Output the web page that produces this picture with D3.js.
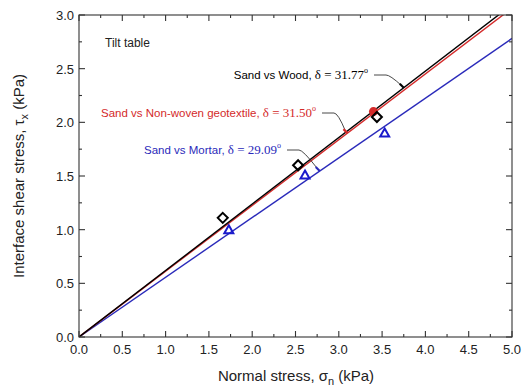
<!DOCTYPE html>
<html>
<head>
<meta charset="utf-8">
<script src="https://cdn.jsdelivr.net/npm/d3@7"></script>
<style>
  html, body { margin: 0; padding: 0; background: #fff; }
  svg { display: block; }
  text { font-family: "Liberation Sans", Arial, sans-serif; }
  .serif { font-family: "Liberation Serif", "Times New Roman", serif; }
</style>
</head>
<body>
<svg id="chart" width="528" height="389"></svg>
<script>
// Interface friction angles (degrees) from tilt-table tests
const seriesNames = ["Sand vs Wood", "Sand vs Non-woven geotextile", "Sand vs Mortar"];
const deltas = [31.77, 31.50, 29.09];
const seriesColors = ["#000000", "#d42a2a", "#2a2aba"];

// Measured points: normal stress (kPa) and shear stress (kPa)
const woodSigma = [1.66, 2.53, 3.44];
const woodTau = [1.11, 1.60, 2.05];
const geoSigma = [3.40];
const geoTau = [2.10];
const mortarSigma = [1.73, 2.61, 3.53];
const mortarTau = [1.00, 1.51, 1.90];

const xTicks = [0, 0.5, 1, 1.5, 2, 2.5, 3, 3.5, 4, 4.5, 5];
const yTicks = [0, 0.5, 1, 1.5, 2, 2.5, 3];

const svg = d3.select("#chart");
const m = { left: 79, right: 16, top: 15, bottom: 52 };
const W = 528, H = 389;
const x = d3.scaleLinear().domain([0, 5]).range([m.left, W - m.right]);
const y = d3.scaleLinear().domain([0, 3]).range([H - m.bottom, m.top]);

svg.append("rect").attr("width", W).attr("height", H).attr("fill", "#fff");

const defs = svg.append("defs");
defs.append("clipPath").attr("id", "plotclip").append("rect")
  .attr("x", x(0)).attr("y", y(3)).attr("width", x(5) - x(0)).attr("height", y(0) - y(3));

// Fitted lines tau = sigma * tan(delta), drawn behind the markers
const lineG = svg.append("g").attr("clip-path", "url(#plotclip)");
[2, 1, 0].forEach(i => {
  const k = Math.tan(deltas[i] * Math.PI / 180);
  lineG.append("line")
    .attr("x1", x(0)).attr("y1", y(0))
    .attr("x2", x(5)).attr("y2", y(5 * k))
    .attr("stroke", seriesColors[i]).attr("stroke-width", 1.4);
});

// Axes: ticks pointing inward on all four sides
const minor = d3.range(0, 5.01, 0.25);
const minorY = d3.range(0, 3.01, 0.25);
const fmt = d3.format(".1f");
const axG = svg.append("g").attr("fill", "none").attr("stroke", "#333").attr("stroke-width", 1.1);

function addTicks(vals, isMajor) {
  const len = isMajor ? 6 : 3;
  vals.forEach(v => {
    axG.append("line").attr("x1", x(v)).attr("x2", x(v)).attr("y1", y(0)).attr("y2", y(0) - len);
    axG.append("line").attr("x1", x(v)).attr("x2", x(v)).attr("y1", y(3)).attr("y2", y(3) + len);
  });
}
function addTicksY(vals, isMajor) {
  const len = isMajor ? 6 : 3;
  vals.forEach(v => {
    axG.append("line").attr("y1", y(v)).attr("y2", y(v)).attr("x1", x(0)).attr("x2", x(0) + len);
    axG.append("line").attr("y1", y(v)).attr("y2", y(v)).attr("x1", x(5)).attr("x2", x(5) - len);
  });
}
addTicks(minor.filter(v => Math.abs(v * 2 - Math.round(v * 2)) > 0.01), false);
addTicks(xTicks, true);
addTicksY(minorY.filter(v => Math.abs(v * 2 - Math.round(v * 2)) > 0.01), false);
addTicksY(yTicks, true);
axG.append("rect").attr("x", x(0)).attr("y", y(3)).attr("width", x(5) - x(0)).attr("height", y(0) - y(3));

svg.append("g").selectAll("text").data(xTicks).join("text")
  .attr("x", d => x(d)).attr("y", y(0) + 17).attr("text-anchor", "middle")
  .attr("font-size", 13).attr("fill", "#222").text(d => fmt(d));
svg.append("g").selectAll("text").data(yTicks).join("text")
  .attr("x", x(0) - 5).attr("y", d => y(d) + 5).attr("text-anchor", "end")
  .attr("font-size", 13).attr("fill", "#222").text(d => fmt(d));

// Axis titles
const xt = svg.append("text").attr("x", 296).attr("y", 381).attr("text-anchor", "middle")
  .attr("font-size", 15).attr("fill", "#222");
xt.append("tspan").text("Normal stress, σ");
xt.append("tspan").attr("font-size", 11).attr("dy", 4).text("n");
xt.append("tspan").attr("dy", -4).text(" (kPa)");

const yt = svg.append("text").attr("transform", `translate(24,${(y(0) + y(3)) / 2}) rotate(-90)`)
  .attr("text-anchor", "middle").attr("font-size", 15).attr("fill", "#222");
yt.append("tspan").text("Interface shear stress, τ");
yt.append("tspan").attr("font-size", 11).attr("dy", 4).text("x");
yt.append("tspan").attr("dy", -4).text(" (kPa)");

// Markers
const mk = svg.append("g");
mk.selectAll("circle").data(d3.zip(geoSigma, geoTau)).join("circle")
  .attr("cx", d => x(d[0])).attr("cy", d => y(d[1])).attr("r", 4.5)
  .attr("fill", "#d42a2a");
mk.selectAll("path.dia").data(d3.zip(woodSigma, woodTau)).join("path").attr("class", "dia")
  .attr("transform", d => `translate(${x(d[0])},${y(d[1])})`)
  .attr("d", "M0,-5L5,0L0,5L-5,0Z").attr("fill", "none").attr("stroke", "#000").attr("stroke-width", 2);
mk.selectAll("path.tri").data(d3.zip(mortarSigma, mortarTau)).join("path").attr("class", "tri")
  .attr("transform", d => `translate(${x(d[0])},${y(d[1])})`)
  .attr("d", "M0,-4.5L4.5,3.5L-4.5,3.5Z").attr("fill", "none").attr("stroke", "#1a1acc").attr("stroke-width", 2);

svg.append("text").attr("x", 105).attr("y", 47).attr("font-size", 12).attr("fill", "#222").text("Tilt table");

// Line labels with leader arrows pointing to their fitted line
const labelPos = [
  { tx: 368, ty: 79, sigma: 3.75 },
  { tx: 316, ty: 117, sigma: 3.1 },
  { tx: 281, ty: 154, sigma: 2.78 }
];
labelPos.forEach((p, i) => {
  const t = svg.append("text").attr("x", p.tx).attr("y", p.ty).attr("text-anchor", "end")
    .attr("font-size", 11.5).attr("fill", seriesColors[i]);
  t.append("tspan").text(seriesNames[i] + ", ");
  t.append("tspan").attr("class", "serif").attr("font-size", 13).text("δ = " + deltas[i].toFixed(2));
  t.append("tspan").attr("class", "serif").attr("font-size", 8).attr("dy", -6).text("o");
  const k = Math.tan(deltas[i] * Math.PI / 180);
  const ex = x(p.sigma), ey = y(p.sigma * k);
  const sx = p.tx + 6, sy = p.ty - 4;
  svg.append("path")
    .attr("d", `M${sx},${sy}L${sx + 12},${sy}Q${sx + 16},${sy} ${ex - 2},${ey - 2}`)
    .attr("fill", "none").attr("stroke", "#333").attr("stroke-width", 0.9);
  svg.append("line").attr("x1", ex - 4).attr("y1", ey - 4).attr("x2", ex).attr("y2", ey)
    .attr("stroke", seriesColors[i]).attr("stroke-width", 2.2);
});
</script>
</body>
</html>
